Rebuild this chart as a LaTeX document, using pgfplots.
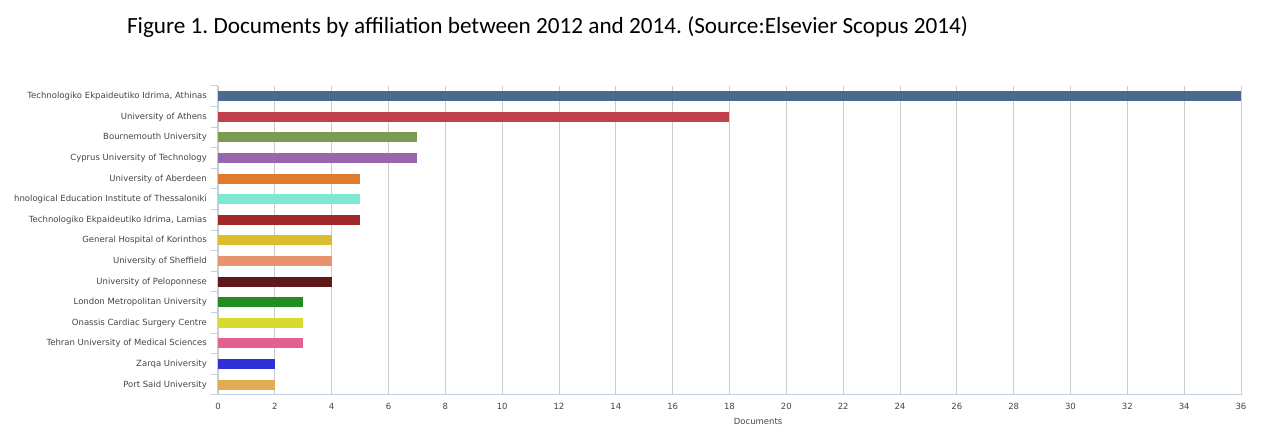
\documentclass[border=0pt]{standalone}
\usepackage{pgfplots}
\pgfplotsset{compat=1.18}
\usepackage{fontspec}
\setmainfont{DejaVu Sans}
\newfontfamily\titlefont{Carlito}
\frenchspacing

\definecolor{axisline}{HTML}{C0D0E0}
\definecolor{gridgray}{HTML}{CCCCCC}
\definecolor{labelgray}{HTML}{444444}
\definecolor{cA}{HTML}{4A6B8E}
\definecolor{cB}{HTML}{C0414A}
\definecolor{cC}{HTML}{7A9B52}
\definecolor{cD}{HTML}{9966AE}
\definecolor{cE}{HTML}{E07A2E}
\definecolor{cF}{HTML}{7EE8D2}
\definecolor{cG}{HTML}{A1282A}
\definecolor{cH}{HTML}{DBBE30}
\definecolor{cI}{HTML}{E8926E}
\definecolor{cJ}{HTML}{5E1A1A}
\definecolor{cK}{HTML}{228B22}
\definecolor{cL}{HTML}{D9DA30}
\definecolor{cM}{HTML}{E36090}
\definecolor{cN}{HTML}{3030D8}
\definecolor{cO}{HTML}{E0AD52}

\begin{document}
\frenchspacing
\begin{tikzpicture}
\path[use as bounding box] (-218pt,-47pt) rectangle (1052pt,395pt);
\begin{axis}[
  scale only axis,
  width=1023pt, height=309pt,
  xmin=0, xmax=36,
  ymin=-0.5, ymax=14.5,
  xbar, bar width=10pt, bar shift=0pt,
  axis x line*=bottom, axis y line*=left,
  axis line style={axisline, line width=1pt},
  xtick={0,2,...,36},
  ytick={0,...,14},
  yticklabels={Port Said University, Zarqa University, Tehran University of Medical Sciences,
    Onassis Cardiac Surgery Centre, London Metropolitan University, University of Peloponnese,
    University of Sheffield, General Hospital of Korinthos, {Technologiko Ekpaideutiko Idrima, Lamias},
    hnological Education Institute of Thessaloniki, University of Aberdeen,
    Cyprus University of Technology, Bournemouth University, University of Athens,
    {Technologiko Ekpaideutiko Idrima, Athinas}},
  minor ytick={-0.5,0.5,...,14.5},
  tick align=outside,
  major tick length=0pt, minor tick length=7pt,
  xtick style={draw=none}, ytick style={draw=none},
  minor y tick style={draw=axisline, line width=1pt},
  xmajorgrids, major grid style={gridgray, line width=0.8pt},
  ticklabel style={font=\fontsize{8.5}{10}\selectfont, text=labelgray},
  yticklabel style={inner sep=0pt, xshift=-11pt},
  xticklabel style={inner sep=0pt, yshift=-8pt},
  xlabel={Documents},
  xlabel style={font=\fontsize{8.5}{10}\selectfont, text=labelgray, at={(axis description cs:0.528,0)}, anchor=center, yshift=-26pt},
  /pgf/number format/assume math mode=true,
]
\addplot[fill=cO, draw=none] coordinates {(2,0)};
\addplot[fill=cN, draw=none] coordinates {(2,1)};
\addplot[fill=cM, draw=none] coordinates {(3,2)};
\addplot[fill=cL, draw=none] coordinates {(3,3)};
\addplot[fill=cK, draw=none] coordinates {(3,4)};
\addplot[fill=cJ, draw=none] coordinates {(4,5)};
\addplot[fill=cI, draw=none] coordinates {(4,6)};
\addplot[fill=cH, draw=none] coordinates {(4,7)};
\addplot[fill=cG, draw=none] coordinates {(5,8)};
\addplot[fill=cF, draw=none] coordinates {(5,9)};
\addplot[fill=cE, draw=none] coordinates {(5,10)};
\addplot[fill=cD, draw=none] coordinates {(7,11)};
\addplot[fill=cC, draw=none] coordinates {(7,12)};
\addplot[fill=cB, draw=none] coordinates {(18,13)};
\addplot[fill=cA, draw=none] coordinates {(36,14)};
\end{axis}
\node[font=\titlefont\fontsize{23.2}{26}\selectfont, anchor=center] at (329.5pt,368pt)
  {Figure 1. Documents by affiliation between 2012 and 2014. (Source:Elsevier Scopus 2014)};
\end{tikzpicture}
\end{document}
